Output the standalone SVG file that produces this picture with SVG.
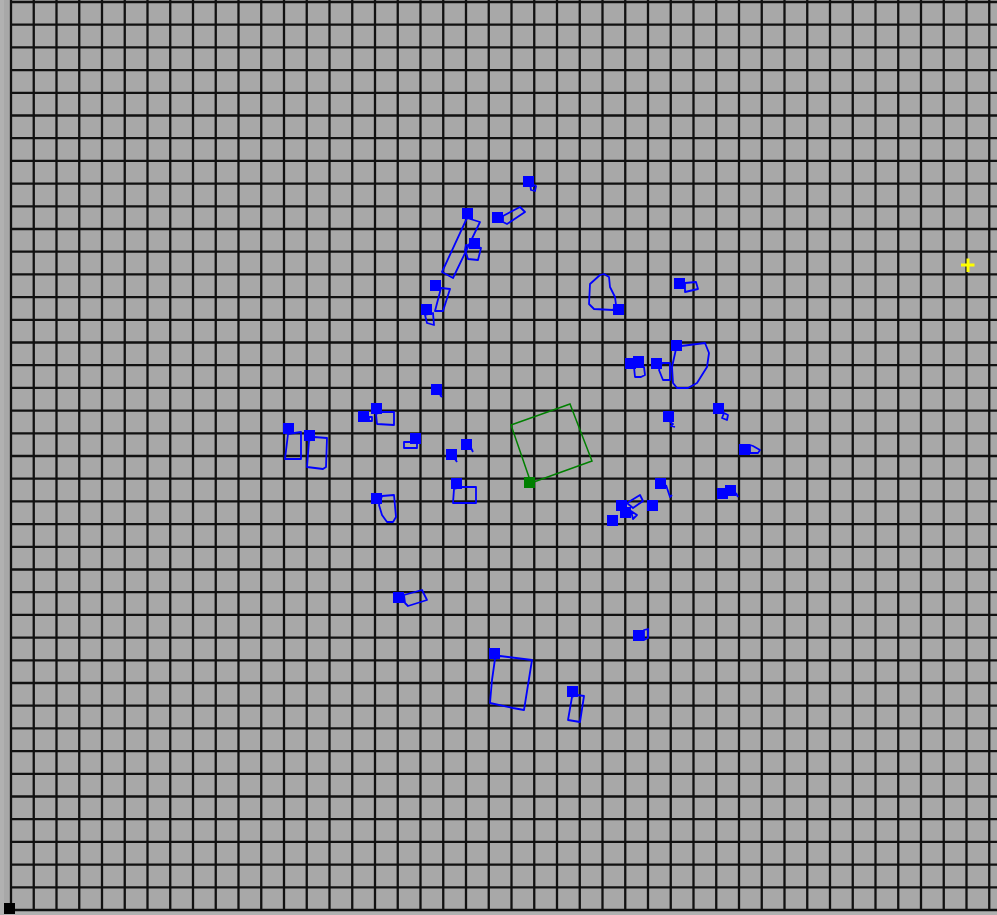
<svg xmlns="http://www.w3.org/2000/svg" width="997" height="915" viewBox="0 0 997 915">
<style>
.grid{stroke:#111;stroke-width:2.3;fill:none}
.m{fill:#0000ff}
.o{fill:none;stroke:#0000ff;stroke-width:1.8;stroke-linejoin:round}
.g{fill:none;stroke:#008000;stroke-width:1.5}
.gm{fill:#008000}
</style>
<rect width="997" height="915" fill="#b1b1b1"/>
<rect x="4" y="0" width="993" height="910" fill="#a8a8a8"/>
<path class="grid" d="M11,0V910M33.75,0V910M56.5,0V910M79.25,0V910M102,0V910M124.75,0V910M147.5,0V910M170.25,0V910M193,0V910M215.75,0V910M238.5,0V910M261.25,0V910M284,0V910M306.75,0V910M329.5,0V910M352.25,0V910M375,0V910M397.75,0V910M420.5,0V910M443.25,0V910M466,0V910M488.75,0V910M511.5,0V910M534.25,0V910M557,0V910M579.75,0V910M602.5,0V910M625.25,0V910M648,0V910M670.75,0V910M693.5,0V910M716.25,0V910M739,0V910M761.75,0V910M784.5,0V910M807.25,0V910M830,0V910M852.75,0V910M875.5,0V910M898.25,0V910M921,0V910M943.75,0V910M966.5,0V910M989.25,0V910
M11,2H997M11,24.7H997M11,47.4H997M11,70.1H997M11,92.8H997M11,115.5H997M11,138.2H997M11,160.9H997M11,183.6H997M11,206.3H997M11,229H997M11,251.7H997M11,274.4H997M11,297.1H997M11,319.8H997M11,342.5H997M11,365.2H997M11,387.9H997M11,410.6H997M11,433.3H997M11,456H997M11,478.7H997M11,501.4H997M11,524.1H997M11,546.8H997M11,569.5H997M11,592.2H997M11,614.9H997M11,637.6H997M11,660.3H997M11,683H997M11,705.7H997M11,728.4H997M11,751.1H997M11,773.8H997M11,796.5H997M11,819.2H997M11,841.9H997M11,864.6H997M11,887.3H997M11,910H997"/>
<rect id="origin" x="4" y="903" width="11" height="11" fill="#000"/>
<g id="target"><path d="M961,265H974.5M968,258.5V272" stroke="#ffff00" stroke-width="3"/></g>
<g id="connectors"/>
<g id="green1"><polygon class="g" points="511,425 570,404 592,461 531,483"/><rect class="gm" x="524" y="477" width="11" height="11"/></g>
<g id="b1"><polygon class="o" points="530,183 536,186 535,191 531,190"/><rect class="m" x="523" y="176" width="11" height="11"/></g>
<g id="b2"><polygon class="o" points="503,216 520,207 525,212 507,224 503,222"/><rect class="m" x="492" y="212" width="11" height="11"/></g>
<g id="b3"><polygon class="o" points="467,218 480,222 453,278 442,272"/><rect class="m" x="462" y="208" width="11" height="11"/></g>
<g id="b4"><polygon class="o" points="466,245 481,248 478,260 468,259 465,250"/><rect class="m" x="469" y="238" width="11" height="11"/></g>
<g id="b5"><polygon class="o" points="441,288 450,289 443,311 435,311"/><rect class="m" x="430" y="280" width="11" height="11"/></g>
<g id="b6"><polygon class="o" points="425,315 433,313 434,325 427,323"/><rect class="m" x="421" y="304" width="11" height="11"/></g>
<g id="b7"><polygon class="o" points="600,275 604,274 609,277 610,287 615,297 616,305 613,310 594,309 589,304 590,284"/><rect class="m" x="613" y="304" width="11" height="11"/></g>
<g id="b8"><polygon class="o" points="685,283 696,282 698,289 685,292"/><rect class="m" x="674" y="278" width="11" height="11"/></g>
<g id="b9"><polygon class="o" points="681,346 705,343 709,353 707,367 697,383 688,388 677,388 673,383 672,367 676,349"/><rect class="m" x="671" y="340" width="11" height="11"/></g>
<g id="b10"><rect class="m" x="625" y="358" width="11" height="11"/></g>
<g id="b11"><polygon class="o" points="634,367 644,367 645,375 641,377 635,377"/><rect class="m" x="633" y="356" width="11" height="11"/></g>
<g id="b12"><polygon class="o" points="662,363 670,363 670,380 663,380 659,370"/><rect class="m" x="651" y="358" width="11" height="11"/></g>
<g id="b13"><polyline class="o" points="440,395 442,397"/><rect class="m" x="431" y="384" width="11" height="11"/></g>
<g id="b14"><polygon class="o" points="382,412 394,412 394,425 377,424 376,414"/><rect class="m" x="371" y="403" width="11" height="11"/></g>
<g id="b15"><polygon class="o" points="369,417 372,417 372,421 369,421"/><rect class="m" x="358" y="411" width="11" height="11"/></g>
<g id="b16"><polygon class="o" points="288,434 301,432 301,459 285,459"/><rect class="m" x="283" y="423" width="11" height="11"/></g>
<g id="b17"><polygon class="o" points="314,437 327,438 326,467 323,469 307,467 309,441"/><rect class="m" x="304" y="430" width="11" height="11"/></g>
<g id="b18"><polygon class="o" points="404,442 417,442 417,448 404,448"/><rect class="m" x="410" y="433" width="11" height="11"/></g>
<g id="b19"><polyline class="o" points="471,448 473,452"/><rect class="m" x="461" y="439" width="11" height="11"/></g>
<g id="b20"><polyline class="o" points="455,459 457,462"/><rect class="m" x="446" y="449" width="11" height="11"/></g>
<g id="b21"><polygon class="o" points="462,487 476,487 476,503 453,503 454,489"/><rect class="m" x="451" y="478" width="11" height="11"/></g>
<g id="b22"><polygon class="o" points="382,496 394,495 396,517 393,522 387,522 382,515 379,505"/><rect class="m" x="371" y="493" width="11" height="11"/></g>
<g id="b23"><polyline class="o" points="670,422 673,424 671,426 675,427"/><rect class="m" x="663" y="411" width="11" height="11"/></g>
<g id="b24"><polygon class="o" points="724,413 728,415 727,420 722,418"/><rect class="m" x="713" y="403" width="11" height="11"/></g>
<g id="b25"><polygon class="o" points="750,445 753,446 760,450 758,453 750,453"/><rect class="m" x="739" y="444" width="11" height="11"/></g>
<g id="b26"><polyline class="o" points="666,485 668,491 670,497 672,495"/><rect class="m" x="655" y="478" width="11" height="11"/></g>
<g id="b27"><rect class="m" x="717" y="488" width="11" height="11"/></g>
<g id="b28"><polyline class="o" points="736,493 738,497"/><rect class="m" x="725" y="485" width="11" height="11"/></g>
<g id="b29"><rect class="m" x="647" y="500" width="11" height="11"/></g>
<g id="b30"><polygon class="o" points="627,503 640,495 643,501 633,508"/><rect class="m" x="616" y="500" width="11" height="11"/></g>
<g id="b31"><polygon class="o" points="631,511 637,515 633,519"/><rect class="m" x="620" y="507" width="11" height="11"/></g>
<g id="b32"><rect class="m" x="607" y="515" width="11" height="11"/></g>
<g id="b33"><polygon class="o" points="404,595 422,590 427,600 408,606 405,603"/><rect class="m" x="393" y="592" width="11" height="11"/></g>
<g id="b34"><polygon class="o" points="644,630 648,629 648,638 644,640"/><rect class="m" x="633" y="630" width="11" height="11"/></g>
<g id="b35"><polygon class="o" points="500,656 532,660 524,710 513,708 490,703 492,680 495,659"/><rect class="m" x="489" y="648" width="11" height="11"/></g>
<g id="b36"><polygon class="o" points="577,695 584,696 580,722 568,720 572,697"/><rect class="m" x="567" y="686" width="11" height="11"/></g>
</svg>
